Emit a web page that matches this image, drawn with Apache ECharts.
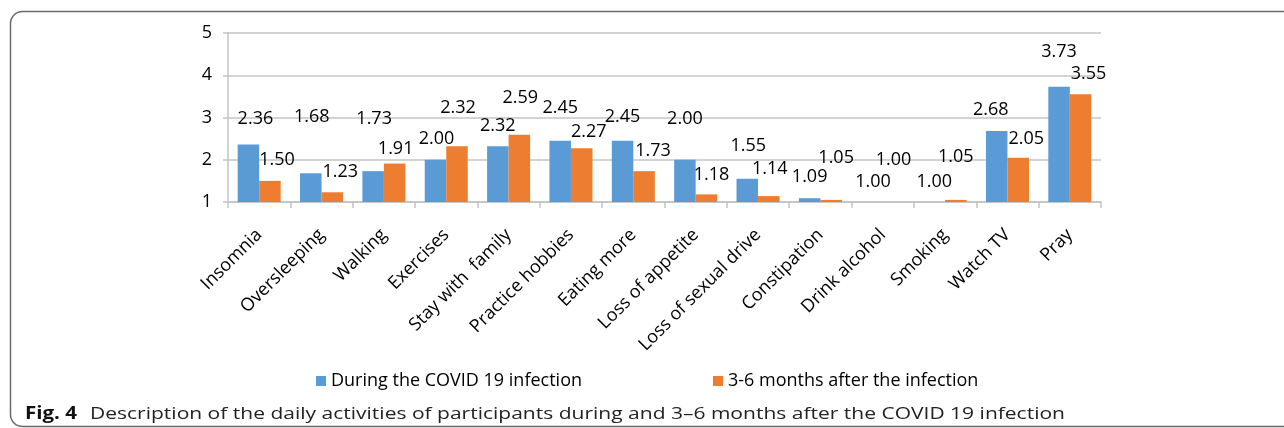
<!DOCTYPE html>
<html>
<head>
<meta charset="utf-8">
<script src="https://cdn.jsdelivr.net/npm/echarts@6/dist/echarts.min.js"></script>
<style>
html,body{margin:0;padding:0;background:#fff;}
#chart{width:1284px;height:428px;}
</style>
</head>
<body>
<div id="chart"></div>
<script>
const categories = ['Insomnia','Oversleeping','Walking','Exercises','Stay with  family','Practice hobbies','Eating more','Loss of appetite','Loss of sexual drive','Constipation','Drink alcohol','Smoking','Watch TV','Pray'];
const duringInfection = [2.36,1.68,1.73,2.00,2.32,2.45,2.45,2.00,1.55,1.09,1.00,1.00,2.68,3.73];
const afterInfection = [1.50,1.23,1.91,2.32,2.59,2.27,1.73,1.18,1.14,1.05,1.00,1.05,2.05,3.55];
const seriesNames = ['During the COVID 19 infection','3-6 months after the infection'];
const yTicks = {min:1, max:5, interval:1};
const captionBold = 'Fig. 4';
const captionText = 'Description of the daily activities of participants during and 3\u20136 months after the COVID 19 infection';

// label placement nudges [dx, lift above bar top] (px), as hand-placed in the original
const nudgeBlue = [[7,26],[1,56],[1,52],[1,21],[0,20],[0,33],[0,24],[0,41],[1,33],[0,21],[1,20],[0,20],[-6,21],[0,35]];
const nudgeOrange = [[7,21],[8,20],[1,15],[1,38],[1,37],[7,16],[9,20],[5,20],[1,27],[5,42],[0,42],[0,43],[8,19],[8,20]];

const FONT = '"Open Sans", sans-serif';
const LH = 18;
function build(values, nudges){
  return values.map((v,i)=>({
    value:v,
    label:{offset:[nudges[i][0], -(nudges[i][1]-LH/2)]}
  }));
}
// the caption in the original uses a wider face; stretch to the same widths
const mctx = document.createElement('canvas').getContext('2d');
function textW(str, font){ mctx.font = font; return mctx.measureText(str).width; }
const capFont = '17px "Open Sans"';
const capBoldFont = 'bold 17px "Open Sans"';
const capScale = 975 / textW(captionText, capFont);
const figScale = 52 / textW(captionBold, capBoldFont);

const chart = echarts.init(document.getElementById('chart'), null, {renderer:'canvas'});
const gridColor = '#c4c4c4';
chart.setOption({
  animation:false,
  backgroundColor:'#fff',
  textStyle:{fontFamily:FONT},
  grid:{left:228,right:183,top:33,bottom:226,containLabel:false},
  xAxis:{
    type:'category', data:categories,
    axisLine:{lineStyle:{color:gridColor,width:1.5}},
    axisTick:{show:true,length:6,lineStyle:{color:gridColor,width:1.5}},
    axisLabel:{interval:0,rotate:45,margin:30,fontSize:18,color:'#000',fontFamily:FONT}
  },
  yAxis:{
    type:'value', min:yTicks.min, max:yTicks.max, interval:yTicks.interval,
    axisLine:{show:true,lineStyle:{color:gridColor,width:1.5}},
    axisTick:{show:true,length:5,lineStyle:{color:gridColor,width:1.5}},
    axisLabel:{margin:16,fontSize:18,color:'#000',fontFamily:FONT},
    splitLine:{show:true,lineStyle:{color:gridColor,width:1.5}}
  },
  legend:{
    left:311, top:367, itemWidth:10, itemHeight:10, itemGap:131,
    icon:'rect',
    textStyle:{fontSize:18,color:'#000',fontFamily:FONT},
    data:seriesNames
  },
  graphic:[
    {
      type:'rect', silent:true, z:-1,
      shape:{x:10.5,y:11.5,width:1320,height:415,r:12},
      style:{fill:'none',stroke:'#6a6a6a',lineWidth:1.5}
    },
    {
      type:'text', silent:true, x:25, y:414, scaleX:figScale, originX:0,
      style:{text:captionBold, font:capBoldFont, fill:'#111', textVerticalAlign:'middle', verticalAlign:'middle'}
    },
    {
      type:'text', silent:true, x:90, y:414, scaleX:capScale, originX:0,
      style:{text:captionText, font:capFont, fill:'#222', textVerticalAlign:'middle', verticalAlign:'middle'}
    }
  ],
  series:[
    {name:seriesNames[0],type:'bar',data:build(duringInfection,nudgeBlue),
     itemStyle:{color:'#5B9BD5'},barGap:'0%',barCategoryGap:'31%',
     label:{show:true,position:'top',distance:0,lineHeight:LH,fontSize:18,color:'#000',fontFamily:FONT,formatter:p=>p.value.toFixed(2)}},
    {name:seriesNames[1],type:'bar',data:build(afterInfection,nudgeOrange),
     itemStyle:{color:'#ED7D31'},barGap:'0%',barCategoryGap:'31%',
     label:{show:true,position:'top',distance:0,lineHeight:LH,fontSize:18,color:'#000',fontFamily:FONT,formatter:p=>p.value.toFixed(2)}}
  ]
});
</script>
</body>
</html>
